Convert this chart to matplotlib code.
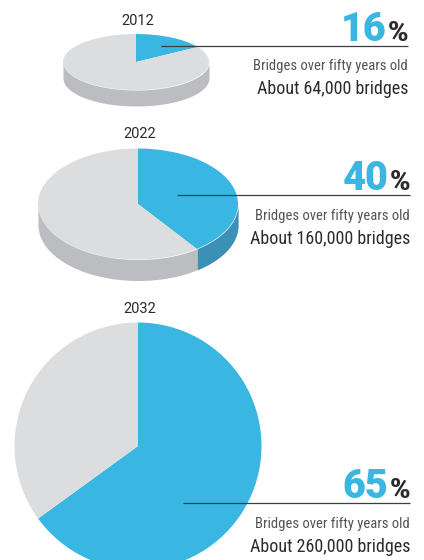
import numpy as np
import matplotlib
matplotlib.use("Agg")
import matplotlib.pyplot as plt

W, H = 424, 560

YEARS = ["2012", "2022", "2032"]
SHARES = [16, 40, 65]
BRIDGES = ["About 64,000 bridges", "About 160,000 bridges", "About 260,000 bridges"]
SUBTITLE = "Bridges over fifty years old"

BLUE = "#39B6E2"
GREY = "#DCDDDF"
SIDE_GREY = "#BBBDC0"
SIDE_BLUE = "#3A90B6"
DARK = "#2B2B2B"

# pie centre x/y, radius x/y, depth (pixels)
PIE_BOX = [(136, 62, 73, 28, 16), (138, 204, 100, 55.5, 21), (138, 446, 123.5, 123.5, 0)]
YEAR_POS = [(138, 21), (140, 134), (140, 309)]
LINE_POS = [(161, 408, 46), (177, 410, 195), (183, 410, 503)]
NUM_Y = [41, 190, 498]
SUB_Y = [66, 216, 524]
ABOUT_Y = [89, 239, 547]
RIGHT = [408, 410, 410]


def draw_pie(fig, share, box):
    cx, cy, rx, ry, depth = box
    ax = fig.add_axes([(cx - rx) / W, 1 - (cy + ry) / H, 2 * rx / W, 2 * ry / H])
    d = depth / ry
    end = np.deg2rad(90 - share * 3.6)

    if depth:
        # side wall only shows on the lower half of the ellipse
        t = np.linspace(-np.pi, 0, 300)
        blue_side = t >= end
        ax.fill_between(np.cos(t), np.sin(t) - d, np.sin(t), color=SIDE_GREY, lw=0, clip_on=False)
        ax.fill_between(np.cos(t[blue_side]), np.sin(t[blue_side]) - d, np.sin(t[blue_side]),
                        color=SIDE_BLUE, lw=0, clip_on=False)

    wedges, _ = ax.pie([share, 100 - share], colors=[BLUE, GREY], startangle=90,
                       counterclock=False, radius=1, wedgeprops={"lw": 0})
    for w in wedges:
        w.set_clip_on(False)
    ax.set_aspect("auto")
    ax.set_xlim(-1, 1)
    ax.set_ylim(-1, 1)
    ax.axis("off")


def main() -> None:
    fig = plt.figure(figsize=(W / 100, H / 100), dpi=100, facecolor="white")

    for share, box in zip(SHARES, PIE_BOX):
        draw_pie(fig, share, box)

    over = fig.add_axes([0, 0, 1, 1], facecolor="none")
    over.set_xlim(0, W)
    over.set_ylim(H, 0)
    over.axis("off")

    for i, share in enumerate(SHARES):
        x0, x1, y = LINE_POS[i]
        over.plot([x0, x1], [y, y], color="#3A3F44", lw=0.9, solid_capstyle="butt")

        yx, yy = YEAR_POS[i]
        over.text(yx, yy, YEARS[i], ha="center", va="center", fontsize=10.5, color=DARK,
                  family="Roboto")

        r = RIGHT[i]
        pct = over.text(r, NUM_Y[i], "%", ha="right", va="baseline", fontsize=20,
                        fontweight=900, color=DARK, family="Roboto")
        bb = pct.get_window_extent(fig.canvas.get_renderer())
        over.text(bb.x0 - 1, NUM_Y[i], str(share), ha="right", va="baseline", fontsize=28.5,
                  fontweight=900, color=BLUE, family="Roboto")

        over.text(r, SUB_Y[i], SUBTITLE, ha="right", va="center", fontsize=10.5,
                  fontweight=400, color="#545456", family="Roboto Condensed")
        over.text(r, ABOUT_Y[i], BRIDGES[i], ha="right", va="center", fontsize=13,
                  fontweight=400, color=DARK, family="Roboto Condensed")

    fig.savefig("out.png", dpi=100)
    plt.close(fig)


if __name__ == "__main__":
    main()
